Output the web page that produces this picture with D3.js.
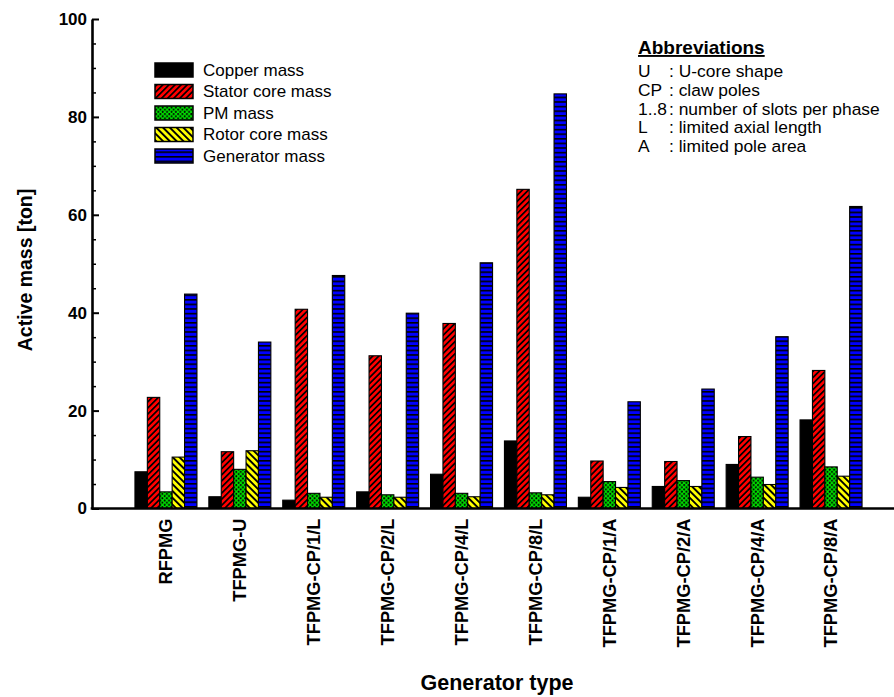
<!DOCTYPE html>
<html>
<head>
<meta charset="utf-8">
<script src="https://cdn.jsdelivr.net/npm/d3@7"></script>
<style>
  html, body { margin: 0; padding: 0; background: #fff; }
  svg { display: block; font-family: "Liberation Sans", Arial, sans-serif; }
</style>
</head>
<body>
<svg id="chart" width="894" height="697"></svg>
<script>
// ---- data ----
const categories = ["RFPMG","TFPMG-U","TFPMG-CP/1/L","TFPMG-CP/2/L","TFPMG-CP/4/L","TFPMG-CP/8/L","TFPMG-CP/1/A","TFPMG-CP/2/A","TFPMG-CP/4/A","TFPMG-CP/8/A"];
const seriesNames = ["Copper mass","Stator core mass","PM mass","Rotor core mass","Generator mass"];
const copperMass    = [7.5, 2.4, 1.7, 3.4, 7.0, 13.8, 2.3, 4.5, 9.0, 18.1];
const statorMass    = [22.7, 11.6, 40.7, 31.2, 37.8, 65.2, 9.7, 9.6, 14.7, 28.2];
const pmMass        = [3.4, 8.0, 3.1, 2.8, 3.1, 3.2, 5.5, 5.7, 6.4, 8.5];
const rotorMass     = [10.5, 11.8, 2.3, 2.3, 2.4, 2.8, 4.3, 4.5, 4.9, 6.6];
const generatorMass = [43.8, 34.0, 47.6, 39.9, 50.2, 84.7, 21.8, 24.4, 35.1, 61.7];
const yTicks = [0, 20, 40, 60, 80, 100];
const abbrevKeys = ["U", "CP", "1..8", "L", "A"];
const abbrevDesc = [": U-core shape", ": claw poles", ": number of slots per phase", ": limited axial length", ": limited pole area"];

const seriesValues = [copperMass, statorMass, pmMass, rotorMass, generatorMass];
const fills = ["#000000", "url(#pRed)", "url(#pGreen)", "url(#pYellow)", "url(#pBlue)"];

const svg = d3.select("#chart");

// ---- patterns ----
const defs = svg.append("defs");
function stripe(id, color, size, angle, lw) {
  const p = defs.append("pattern").attr("id", id).attr("patternUnits", "userSpaceOnUse")
    .attr("width", size).attr("height", size).attr("patternTransform", `rotate(${angle})`);
  p.append("rect").attr("width", size).attr("height", size).attr("fill", color);
  p.append("rect").attr("x", 0).attr("y", 0).attr("width", lw).attr("height", size).attr("fill", "#000");
}
stripe("pRed", "#ff0000", 4.3, 45, 1.7);
stripe("pYellow", "#ffff00", 4.8, -45, 1.9);
{
  const p = defs.append("pattern").attr("id", "pBlue").attr("patternUnits", "userSpaceOnUse")
    .attr("width", 10).attr("height", 4.6);
  p.append("rect").attr("width", 10).attr("height", 4.6).attr("fill", "#0000ff");
  p.append("rect").attr("width", 10).attr("height", 1.6).attr("fill", "#000");
}
{
  const p = defs.append("pattern").attr("id", "pGreen").attr("patternUnits", "userSpaceOnUse")
    .attr("width", 4.4).attr("height", 4.4);
  p.append("rect").attr("width", 4.4).attr("height", 4.4).attr("fill", "#00dd00");
  p.append("circle").attr("cx", 1.1).attr("cy", 1.1).attr("r", 1.0).attr("fill", "#000");
  p.append("circle").attr("cx", 3.3).attr("cy", 3.3).attr("r", 1.0).attr("fill", "#000");
}

// ---- scales ----
const x0 = d3.scaleBand().domain(categories).range([129, 868]).paddingInner(0.161).paddingOuter(0.0805);
const x1 = d3.scaleBand().domain(seriesNames).range([0, x0.bandwidth()]);
const y = d3.scaleLinear().domain([0, 100]).range([508.5, 19]);
const axisX = 92;

// ---- bars ----
const groups = svg.append("g").selectAll("g").data(categories).join("g")
  .attr("transform", d => `translate(${x0(d)},0)`);
groups.selectAll("rect").data((d, i) => seriesNames.map((s, j) => ({ s, j, v: seriesValues[j][i] })))
  .join("rect")
  .attr("x", d => x1(d.s))
  .attr("width", x1.bandwidth())
  .attr("y", d => y(d.v))
  .attr("height", d => y(0) - y(d.v))
  .attr("fill", d => fills[d.j])
  .attr("stroke", "#000")
  .attr("stroke-width", 1.1);

// ---- y axis ----
const minorVals = d3.range(0, 101, 5).filter(v => !yTicks.includes(v));
const gMinor = svg.append("g").attr("transform", `translate(${axisX},0)`)
  .call(d3.axisLeft(y).tickValues(minorVals).tickSize(-4).tickFormat(""));
gMinor.select(".domain").remove();
gMinor.selectAll("line").attr("stroke-width", 1.5);

const gY = svg.append("g").attr("transform", `translate(${axisX},0)`)
  .call(d3.axisLeft(y).tickValues(yTicks).tickSize(-7).tickSizeOuter(0).tickPadding(5));
gY.select(".domain").attr("stroke-width", 2.6);
gY.selectAll(".tick line").attr("stroke-width", 2);
gY.selectAll(".tick text").attr("font-size", 17).attr("font-weight", "bold")
  .attr("font-family", "'Liberation Sans', Arial, sans-serif").attr("fill", "#000");

// ---- x axis ----
svg.append("line").attr("x1", axisX - 1.3).attr("x2", 894).attr("y1", y(0)).attr("y2", y(0))
  .attr("stroke", "#000").attr("stroke-width", 2.7);
const gX = svg.append("g").attr("transform", `translate(0,${y(0)})`)
  .call(d3.axisBottom(x0).tickSize(0).tickPadding(0));
gX.select(".domain").remove();
gX.selectAll(".tick text")
  .attr("font-size", 18.3).attr("font-weight", "bold")
  .attr("font-family", "'Liberation Sans', Arial, sans-serif").attr("fill", "#000")
  .attr("text-anchor", "end")
  .attr("transform", "translate(0,10) rotate(-90)")
  .attr("x", 0).attr("y", 0).attr("dy", "0.35em");

// ---- axis titles ----
svg.append("text").attr("transform", "translate(25,270) rotate(-90)")
  .attr("text-anchor", "middle").attr("dy", "0.35em")
  .attr("font-size", 19.5).attr("font-weight", "bold").text("Active mass [ton]");
svg.append("text").attr("x", 497).attr("y", 690).attr("text-anchor", "middle")
  .attr("font-size", 21.5).attr("font-weight", "bold").text("Generator type");

// ---- legend ----
const leg = svg.append("g").selectAll("g").data(seriesNames).join("g")
  .attr("transform", (d, i) => `translate(155,${70 + i * 21.5})`);
leg.append("rect").attr("x", 0).attr("y", -7).attr("width", 38).attr("height", 14)
  .attr("fill", (d, i) => fills[i]).attr("stroke", "#000").attr("stroke-width", 1.5);
leg.append("text").attr("x", 48).attr("y", 0).attr("dy", "0.35em")
  .attr("font-size", 17).text(d => d);

// ---- abbreviations ----
svg.append("text").attr("x", 638).attr("y", 54).attr("font-size", 19).attr("font-weight", "bold")
  .attr("text-decoration", "underline").text("Abbreviations");
const ab = svg.append("g").selectAll("g").data(abbrevKeys).join("g")
  .attr("transform", (d, i) => `translate(0,${77 + i * 18.8})`);
ab.append("text").attr("x", 638).attr("font-size", 17.4).text(d => d);
ab.append("text").attr("x", 669).attr("font-size", 17.4).text((d, i) => abbrevDesc[i]);
</script>
</body>
</html>
